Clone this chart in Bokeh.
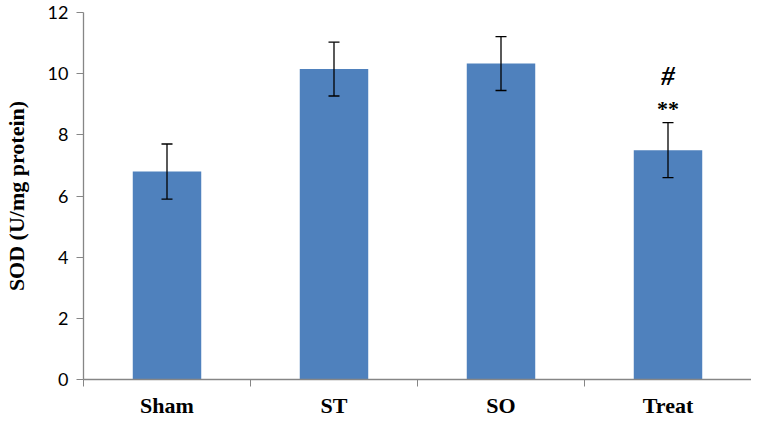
from bokeh.plotting import figure
from bokeh.models import ColumnDataSource, Whisker, FixedTicker, Range1d, TeeHead
from bokeh.core.properties import value
from bokeh.embed import file_html
from bokeh.resources import INLINE

categories = ["Sham", "ST", "SO", "Treat"]
sod_values = [6.8, 10.15, 10.33, 7.5]
sod_errors = [0.9, 0.88, 0.88, 0.9]
y_ticks = [0, 2, 4, 6, 8, 10, 12]
marks_text = ["**", "#"]
marks_index = [3, 3]

xpos = [i + 0.5 for i in range(len(categories))]
src = ColumnDataSource(dict(
    x=xpos, top=sod_values,
    upper=[v + e for v, e in zip(sod_values, sod_errors)],
    lower=[v - e for v, e in zip(sod_values, sod_errors)],
))

p = figure(width=751, height=420, output_backend="svg", toolbar_location=None,
           x_range=Range1d(0, len(categories)), y_range=Range1d(0, 12),
           min_border_left=81, min_border_right=0, min_border_top=12, min_border_bottom=20)
p.outline_line_color = None
p.xgrid.grid_line_color = None
p.ygrid.grid_line_color = None
p.background_fill_color = "white"
p.border_fill_color = "white"

p.vbar(x="x", top="top", bottom=0, width=0.41, source=src,
       fill_color="#4F81BD", line_color=None)

w = Whisker(base="x", upper="upper", lower="lower", source=src,
            line_color="black", line_width=1.3, level="overlay")
w.upper_head = TeeHead(size=11, line_color="black", line_width=1.3)
w.lower_head = TeeHead(size=11, line_color="black", line_width=1.3)
p.add_layout(w)

# significance marks above Treat
mx = [xpos[i] for i in marks_index]
my = [sod_values[i] + sod_errors[i] for i in marks_index]
p.text(x=[mx[0]], y=[my[0]], text=[marks_text[0]], y_offset=-14,
       text_align="center", text_baseline="middle",
       text_font=value("Liberation Serif"), text_font_style="bold",
       text_font_size="22px", text_color="black")
p.text(x=[mx[1]], y=[my[1]], text=[marks_text[1]], y_offset=-47,
       text_align="center", text_baseline="middle",
       text_font=value("Liberation Serif"), text_font_style="bold italic",
       text_font_size="27px", text_color="black")

# axes
ax = p.xaxis[0]
ax.ticker = FixedTicker(ticks=xpos, minor_ticks=list(range(len(categories) + 1)))
ax.major_label_overrides = {x: c for x, c in zip(xpos, categories)}
ax.major_tick_line_color = None
ax.minor_tick_line_color = "#868686"
ax.minor_tick_out = 7
ax.minor_tick_in = 0
ax.axis_line_color = "#868686"
ax.axis_line_width = 1.3
ax.major_label_text_font = "Liberation Serif"
ax.major_label_text_font_style = "bold"
ax.major_label_text_font_size = "22px"
ax.major_label_text_color = "black"
ax.major_label_standoff = 6

ay = p.yaxis[0]
ay.ticker = FixedTicker(ticks=y_ticks)
ay.minor_tick_line_color = None
ay.major_tick_line_color = "#868686"
ay.major_tick_out = 7
ay.major_tick_in = 0
ay.axis_line_color = "#868686"
ay.axis_line_width = 1.3
ay.major_label_text_font = "Lato"
ay.major_label_text_font_size = "18px"
ay.major_label_text_color = "black"
ay.major_label_standoff = 8
ay.axis_label = "SOD (U/mg protein)"
ay.axis_label_text_font = "Liberation Serif"
ay.axis_label_text_font_style = "bold"
ay.axis_label_text_font_size = "22px"
ay.axis_label_text_color = "black"
ay.axis_label_standoff = 16

open("out.html", "w").write(file_html(p, INLINE))
